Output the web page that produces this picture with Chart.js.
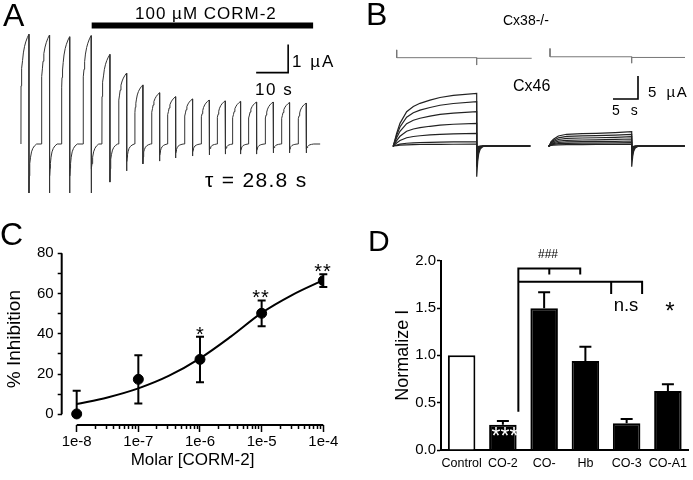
<!DOCTYPE html>
<html>
<head>
<meta charset="utf-8">
<script src="https://cdn.jsdelivr.net/npm/chart.js@4.4.1/dist/chart.umd.min.js"></script>
<style>
  body { margin: 0; width: 693px; height: 480px; position: relative; overflow: hidden; background: #fff;
         font-family: Arial, "Liberation Sans", sans-serif; color: #000; }
  canvas { position: absolute; }
  .t { position: absolute; white-space: nowrap; line-height: 1; }
  .c { transform: translateX(-50%); }
</style>
</head>
<body>
<canvas id="chartA" width="345" height="210" style="left:0;top:0"></canvas>
<canvas id="chartB" width="348" height="210" style="left:345px;top:0"></canvas>
<canvas id="chartC" width="345" height="260" style="left:0;top:220px"></canvas>
<canvas id="chartD" width="343" height="260" style="left:350px;top:220px"></canvas>

<div class="t" style="left:3px;top:-1px;font-size:32px">A</div>
<div class="t" style="left:135px;top:5px;font-size:17px;letter-spacing:1px">100 µM CORM-2</div>
<div class="t" style="left:292px;top:53px;font-size:17px;letter-spacing:2px">1 µA</div>
<div class="t" style="left:255px;top:81px;font-size:17px;letter-spacing:1.5px">10 s</div>
<div class="t" style="left:205px;top:169px;font-size:21px;letter-spacing:1.3px">τ = 28.8 s</div>

<div class="t" style="left:366px;top:-2px;font-size:32px">B</div>
<div class="t" style="left:503px;top:13px;font-size:14px">Cx38-/-</div>
<div class="t" style="left:513px;top:78px;font-size:16px">Cx46</div>
<div class="t" style="left:648px;top:84px;font-size:15px;letter-spacing:1.5px;word-spacing:3px">5 µA</div>
<div class="t" style="left:612px;top:103px;font-size:14px;letter-spacing:1px;word-spacing:5px">5 s</div>

<div class="t" style="left:0;top:218px;font-size:32px">C</div>
<div class="t c" style="left:200px;top:324px;font-size:20px">*</div>
<div class="t c" style="left:261px;top:287px;font-size:20px;letter-spacing:1px">**</div>
<div class="t c" style="left:323px;top:261px;font-size:20px;letter-spacing:1px">**</div>

<div class="t" style="left:368px;top:226px;font-size:30px">D</div>
<div class="t c" style="left:548px;top:248px;font-size:12px">###</div>
<div class="t c" style="left:626px;top:296px;font-size:18.5px">n.s</div>
<div class="t c" style="left:670px;top:299px;font-size:24px">*</div>
<div class="t c" style="left:505px;top:424.5px;font-size:23px;color:#fff">***</div>

<script>
Chart.defaults.font.family = 'Arial, "Liberation Sans", sans-serif';
Chart.defaults.color = '#000';

// ---- Panel A: repeated pulses, CORM-2 washed in (time in s, current in µA)
const pulseEndA = [2.8, 9.2, 15.5, 22.2, 28.1, 33.3, 38.4, 43.6, 48.6, 53.9, 59.1, 64.1, 68.9, 73.9, 79.1, 84.2, 89.4];
const peakA = [3.92, 3.89, 3.83, 3.87, 3.20, 2.53, 2.11, 1.83, 1.69, 1.61, 1.57, 1.54, 1.52, 1.50, 1.50, 1.48, 1.46];
const dipA = [-1.75, -1.75, -1.75, -1.75, -1.36, -0.96, -0.71, -0.61, -0.50, -0.43, -0.39, -0.36, -0.36, -0.36, -0.32, -0.32, -0.32];
// shape of one pulse: [fraction of pulse, fraction of peak]
const riseShapeA = [[0, 0], [0.01, 0.53], [0.05, 0.62], [0.12, 0.69], [0.2, 0.76], [0.3, 0.83], [0.45, 0.89], [0.6, 0.93], [0.8, 0.97], [1, 1]];
// tail after the pulse: [s after pulse, fraction of dip]
const tailShapeA = [[0, 1], [0.1, 0.65], [0.2, 0.5], [0.3, 0.4], [0.5, 0.27], [0.8, 0.16], [1.2, 0.09], [1.7, 0.04], [2.4, 0]];
const pulseLenA = 2.5;
const traceEndA = 93.8;
const drugBarA = [22.4, 91.6];       // CORM-2 application (s)
const scaleBarA = [[73.8, 2.55], [83.8, 2.55], [83.8, 3.55]];  // 10 s, 1 µA

// ---- Panel B: Cx46 current families before / after (time s, current µA)
const stepB = [[0, 16.68], [31.2, 47.68]];
const baseB = [[-0.1, 27.4], [31.0, 58.3]];
const ampB = [[11.46, 9.63, 7.46, 4.93, 2.76, 0.93, 0.4], [3.11, 2.54, 2.02, 1.52, 1.09, 0.72, 0.37]];
const dipB = [[-6.7, -4.5, -3.0, -2.0, -1.2, -0.6, -0.3], [-4.5, -3.0, -2.0, -1.3, -0.8, -0.4, -0.2]];
const riseShapeB = [
  [[0, 0], [0.04, 0.24], [0.08, 0.43], [0.16, 0.65], [0.24, 0.75], [0.32, 0.81], [0.44, 0.87], [0.56, 0.92], [0.72, 0.96], [1, 1]],
  [[0, 0], [0.02, 0.3], [0.05, 0.47], [0.11, 0.70], [0.21, 0.82], [0.4, 0.86], [0.57, 0.89], [0.8, 0.94], [1, 1]]
];
const tailShapeB = [[0, 1], [0.2, 0.5], [0.4, 0.25], [0.7, 0.1], [1.2, 0.02], [2, 0]];
const cx38Left = [[0.68, 20.9], [0.68, 19.2], [16.68, 19.2], [16.68, 17.6], [16.68, 19.07], [27.68, 19.07]];
const cx38Right = [[31.34, 21.2], [31.34, 19.4], [47.68, 19.4], [47.68, 18.0], [47.68, 19.25], [58.34, 19.25]];
const scaleBarB = [[43.94, 10.22], [48.94, 10.22], [48.94, 15.22]];  // 5 s, 5 µA

// ---- Panel C: dose response
const concC = [1e-8, 1e-7, 1e-6, 1e-5, 1e-4];
const inhibC = [0.2, 17.4, 27.3, 50.2, 66.4];
const semC = [11.5, 12.0, 11.3, 6.4, 3.2];
const fitConcC = [1e-8, 3.16e-8, 1e-7, 3.16e-7, 1e-6, 3.16e-6, 1e-5, 3.16e-5, 1e-4];
const fitInhibC = [5.1, 8.4, 12.9, 19.2, 27.8, 38.6, 50.4, 59.4, 66.7];
const tickLabelsC = ['1e-8', '1e-7', '1e-6', '1e-5', '1e-4'];
const yTicksC = [0, 20, 40, 60, 80];
const yMinorC = [0, 10, 20, 30, 40, 50, 60, 70, 80];

// ---- Panel D: normalized current
const groupsD = ['Control', 'CO-2', 'CO-', 'Hb', 'CO-3', 'CO-A1'];
const meanD = [1.0, 0.267, 1.497, 0.94, 0.282, 0.623];
const semD = [0, 0.039, 0.169, 0.151, 0.046, 0.071];
const yTicksD = [0, 0.5, 1.0, 1.5, 2.0];
// comparison brackets, x = group index
const bracket1D = [[1, 0.405], [1, 1.918], [3, 1.918], [3, 1.855], [2, null], [2, 1.918], [2, 1.855]];
const bracket2D = [[1, 1.777], [5, 1.777], [5, 1.647], [4, null], [4, 1.777], [4, 1.647]];

const pts = arr => arr.map(([x, y]) => ({x, y}));

function buildPulses(ends, lens, peaks, dips, rise, tail, from, to) {
  const out = [{x: from, y: 0}];
  ends.forEach((e, i) => {
    const s = e - lens;
    rise.forEach(([f, a]) => out.push({x: s + f * lens, y: a * peaks[i]}));
    tail.forEach(([dt, f]) => out.push({x: e + dt, y: f * dips[i]}));
  });
  out.push({x: to, y: 0});
  return out;
}

const hidden = {display: false};
const baseOpts = {
  responsive: false, animation: false, events: [],
  plugins: {legend: {display: false}, tooltip: {enabled: false}},
  elements: {point: {radius: 0}, line: {tension: 0}}
};

// panel A
new Chart(document.getElementById('chartA'), {
  type: 'line',
  data: {
    datasets: [
      {data: buildPulses(pulseEndA, pulseLenA, peakA, dipA, riseShapeA, tailShapeA, pulseEndA[0] - pulseLenA, traceEndA),
       borderColor: '#333', borderWidth: 1},
      {data: pts([[drugBarA[0], 4.23], [drugBarA[1], 4.23]]), borderColor: '#000', borderWidth: 6, borderCapStyle: 'butt'},
      {data: pts(scaleBarA), borderColor: '#000', borderWidth: 1.6}
    ]
  },
  options: {
    ...baseOpts,
    scales: {
      x: {type: 'linear', min: -6.25, max: 101.5625, ...hidden},
      y: {type: 'linear', min: -2.357, max: 5.143, ...hidden}
    }
  }
});

// panel B
const traceSetsB = [];
stepB.forEach(([on, off], k) => {
  ampB[k].forEach((a, i) => {
    traceSetsB.push({
      data: buildPulses([off], off - on, [a], [dipB[k][i]], riseShapeB[k], tailShapeB, baseB[k][0], baseB[k][1]),
      borderColor: '#222', borderWidth: 1.2
    });
  });
});
new Chart(document.getElementById('chartB'), {
  type: 'line',
  data: {
    datasets: [
      ...traceSetsB,
      {data: pts(cx38Left), borderColor: '#777', borderWidth: 1},
      {data: pts(cx38Right), borderColor: '#777', borderWidth: 1},
      {data: pts(scaleBarB), borderColor: '#000', borderWidth: 1.6}
    ]
  },
  options: {
    ...baseOpts,
    scales: {
      x: {type: 'linear', min: -9.66, max: 59.94, ...hidden},
      y: {type: 'linear', min: -13.91, max: 31.74, ...hidden}
    }
  }
});

// error bars drawn through the chart's own scales
function errorBars(xAxis, xs, ys, errs, cap, twoSided, floor) {
  return {
    id: 'errorBars',
    afterDatasetsDraw(chart) {
      const {ctx} = chart;
      const sx = chart.scales[xAxis], sy = chart.scales.y;
      ctx.save();
      ctx.strokeStyle = '#000';
      ctx.lineWidth = 2;
      xs.forEach((xv, i) => {
        if (!errs[i]) return;
        const px = sx.getPixelForValue(xv);
        const top = sy.getPixelForValue(ys[i] + errs[i]);
        const low = sy.getPixelForValue(twoSided ? Math.max(floor, ys[i] - errs[i]) : ys[i]);
        ctx.beginPath();
        ctx.moveTo(px, low); ctx.lineTo(px, top);
        ctx.moveTo(px - cap / 2, top); ctx.lineTo(px + cap / 2, top);
        if (twoSided && ys[i] - errs[i] >= floor) {
          ctx.moveTo(px - cap / 2, low); ctx.lineTo(px + cap / 2, low);
        }
        ctx.stroke();
      });
      ctx.restore();
    }
  };
}

// Prism style offset axes for panel C
const offsetAxesC = {
  id: 'offsetAxesC',
  afterDraw(chart) {
    const {ctx, chartArea, scales} = chart;
    ctx.save();
    ctx.strokeStyle = '#000';
    ctx.lineWidth = 2;
    ctx.beginPath();
    ctx.moveTo(chartArea.left, scales.y.getPixelForValue(yMinorC[0]));
    ctx.lineTo(chartArea.left, scales.y.getPixelForValue(yMinorC[yMinorC.length - 1]));
    ctx.moveTo(scales.x.getPixelForValue(concC[0]), chartArea.bottom);
    ctx.lineTo(scales.x.getPixelForValue(concC[concC.length - 1]), chartArea.bottom);
    ctx.stroke();
    ctx.restore();
  }
};

const minorTicksC = [];
for (let e = -8; e < -4; e++) for (let k = 1; k < 10; k++) minorTicksC.push(k * Math.pow(10, e));
minorTicksC.push(1e-4);
const xMinC = Math.pow(10, -8.243);

new Chart(document.getElementById('chartC'), {
  type: 'scatter',
  data: {
    datasets: [
      {type: 'line', data: fitConcC.map((x, i) => ({x, y: fitInhibC[i]})), borderColor: '#000', borderWidth: 2,
       pointRadius: 0, cubicInterpolationMode: 'monotone', order: 2},
      {data: concC.map((x, i) => ({x, y: inhibC[i]})), pointRadius: 5, backgroundColor: '#000', borderColor: '#000', order: 1}
    ]
  },
  options: {
    ...baseOpts,
    layout: {padding: {top: 33.3, right: 21.7, left: 0, bottom: 0}},
    scales: {
      x: {
        type: 'logarithmic', min: xMinC, max: 1e-4, weight: 0,
        afterBuildTicks: s => { s.ticks = minorTicksC.map(v => ({value: v})); },
        ticks: {display: false},
        grid: {drawOnChartArea: false, tickLength: 4, tickColor: '#000', tickWidth: 1.5},
        border: {display: false}
      },
      x2: {
        type: 'logarithmic', position: 'bottom', min: xMinC, max: 1e-4, weight: 1,
        afterBuildTicks: s => { s.ticks = concC.map(v => ({value: v})); },
        ticks: {callback: (v, i) => tickLabelsC[i], font: {size: 15}, padding: 1, maxRotation: 0, autoSkip: false},
        grid: {drawOnChartArea: false, tickLength: 3, tickColor: '#000', tickWidth: 1.5},
        border: {display: false},
        title: {display: true, text: 'Molar [CORM-2]', font: {size: 17}, padding: {top: 0, bottom: 9}},
        afterFit: s => { s.height = 51; }
      },
      y: {
        min: -5.3, max: 80,
        afterBuildTicks: s => { s.ticks = yMinorC.map(v => ({value: v})); },
        ticks: {callback: v => yTicksC.includes(v) ? String(v) : '', font: {size: 15}, padding: 4},
        grid: {drawOnChartArea: false, tickLength: 4, tickColor: '#000', tickWidth: 1.5},
        border: {display: false},
        title: {display: true, text: '% Inhibition', font: {size: 19}, padding: {top: 3, bottom: 0}},
        afterFit: s => { s.width = 61.7; }
      }
    }
  },
  plugins: [offsetAxesC, errorBars('x', concC, inhibC, semC, 8, true, 0)]
});

// panel D
new Chart(document.getElementById('chartD'), {
  type: 'bar',
  data: {
    labels: groupsD,
    datasets: [
      {data: meanD, backgroundColor: groupsD.map((g, i) => i === 0 ? '#fff' : '#000'), borderColor: '#000',
       borderWidth: 2, barPercentage: 0.667, categoryPercentage: 1, grouped: false, order: 2},
      {type: 'line', xAxisID: 'xl', data: pts(bracket1D), borderColor: '#000', borderWidth: 2, pointRadius: 0,
       spanGaps: false, clip: false, order: 1},
      {type: 'line', xAxisID: 'xl', data: pts(bracket2D), borderColor: '#000', borderWidth: 2, pointRadius: 0,
       spanGaps: false, clip: false, order: 1}
    ]
  },
  options: {
    ...baseOpts,
    layout: {padding: {top: 40.7, right: 0, left: 0, bottom: 0}},
    scales: {
      x: {
        ticks: {font: {size: 12.5}, padding: 6, maxRotation: 0, autoSkip: false},
        grid: {display: false, drawTicks: false},
        border: {display: true, color: '#000', width: 2},
        afterFit: s => { s.height = 30; }
      },
      xl: {type: 'linear', min: -0.5, max: 5.5, display: false},
      y: {
        min: 0, max: 2,
        afterBuildTicks: s => { s.ticks = yTicksD.map(v => ({value: v})); },
        ticks: {callback: v => v.toFixed(1), font: {size: 15}, padding: 1},
        grid: {drawOnChartArea: false, tickLength: 4, tickColor: '#000', tickWidth: 1.5},
        border: {display: true, color: '#000', width: 2},
        title: {display: true, text: 'Normalize I', font: {size: 18}, padding: {top: 42, bottom: 0}},
        afterFit: s => { s.width = 91; }
      }
    }
  },
  plugins: [errorBars('x', groupsD.map((g, i) => i), meanD, semD, 12, false, 0)]
});
</script>
</body>
</html>
